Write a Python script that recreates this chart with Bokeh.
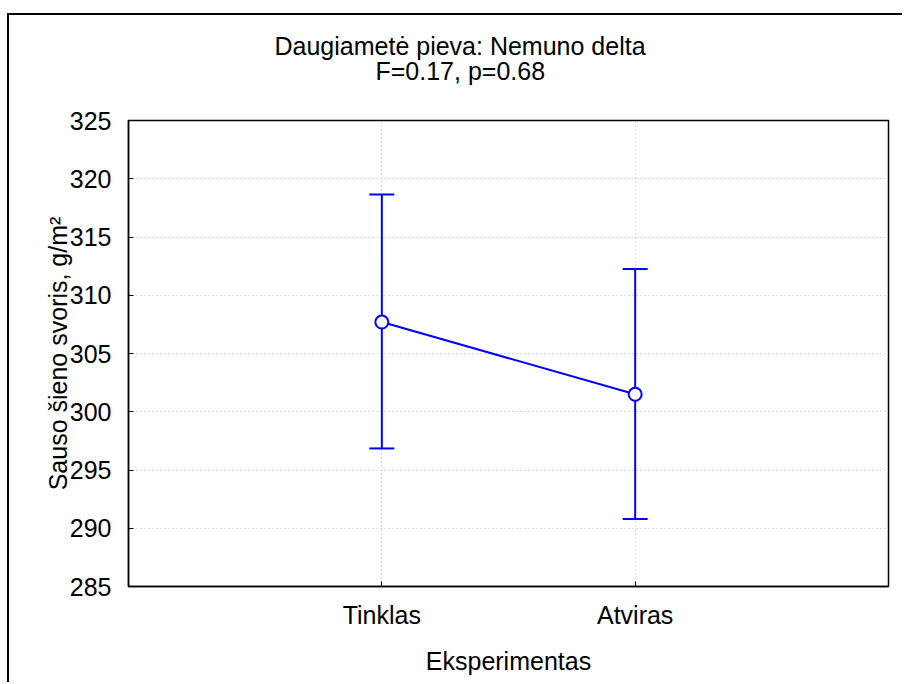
from bokeh.plotting import figure
from bokeh.models import FactorRange, Range1d, FixedTicker, Whisker, TeeHead, Title, ColumnDataSource
from bokeh.embed import file_html
from bokeh.resources import INLINE

# ---- data ----
title_line1 = "Daugiametė pieva: Nemuno delta"
title_line2 = "F=0.17, p=0.68"
categories = ["Tinklas", "Atviras"]
means = [307.7, 301.5]
upper = [318.65, 312.25]
lower = [296.85, 290.8]
y_ticks = [285, 290, 295, 300, 305, 310, 315, 320, 325]
x_label = "Eksperimentas"
y_label = "Sauso šieno svoris, g/m²"

FONT = "Liberation Sans"
FS = "25px"
BLUE = "#0000ff"

src = ColumnDataSource(dict(cat=categories, mean=means, upper=upper, lower=lower))

p = figure(
    width=895, height=669,
    x_range=FactorRange(factors=categories, range_padding=0.5, range_padding_units="absolute"),
    y_range=Range1d(285, 325),
    output_backend="svg", toolbar_location=None,
    min_border_left=119, min_border_right=16, min_border_top=105, min_border_bottom=98,
    background_fill_color="white", border_fill_color="white",
    styles={"margin-left": "7px", "margin-top": "13px",
            "border-left": "2px solid black", "border-top": "2px solid black"},
)

p.outline_line_color = "black"
p.outline_line_width = 1.5

for ax in (p.xaxis[0], p.yaxis[0]):
    ax.axis_line_color = "black"
    ax.axis_line_width = 1.5
    ax.major_tick_in = 5
    ax.major_tick_out = 0
    ax.major_tick_line_color = "black"
    ax.minor_tick_line_color = None
    ax.major_label_text_font = FONT
    ax.major_label_text_font_size = FS
    ax.major_label_text_color = "black"
    ax.axis_label_text_font = FONT
    ax.axis_label_text_font_size = FS
    ax.axis_label_text_font_style = "normal"
    ax.axis_label_text_color = "black"

p.yaxis.ticker = FixedTicker(ticks=y_ticks)
p.yaxis.major_label_standoff = 17
p.yaxis.axis_label = y_label
p.yaxis.axis_label_standoff = -5
p.xaxis.major_label_standoff = 14
p.xaxis.axis_label = x_label
p.xaxis.axis_label_standoff = 15

for g in (p.xgrid[0], p.ygrid[0]):
    g.grid_line_color = "#b8b8b8"
    g.grid_line_dash = "1 3"
    g.grid_line_width = 1

p.line("cat", "mean", source=src, line_color=BLUE, line_width=2)
p.add_layout(Whisker(source=src, base="cat", upper="upper", lower="lower", dimension="height",
                     line_color=BLUE, line_width=2,
                     upper_head=TeeHead(size=25, line_color=BLUE, line_width=2),
                     lower_head=TeeHead(size=25, line_color=BLUE, line_width=2)))
p.scatter("cat", "mean", source=src, size=13, marker="circle", fill_color="white",
          line_color=BLUE, line_width=2)

# two-line title (second line closest to the frame)
p.add_layout(Title(text=title_line2, align="left", offset=247, standoff=72,
                   text_font=FONT, text_font_size=FS, text_font_style="normal",
                   text_color="black"), "above")
p.add_layout(Title(text=title_line1, align="left", offset=146, standoff=-82,
                   text_font=FONT, text_font_size=FS, text_font_style="normal",
                   text_color="black"), "above")

open("out.html", "w").write(file_html(p, INLINE))
